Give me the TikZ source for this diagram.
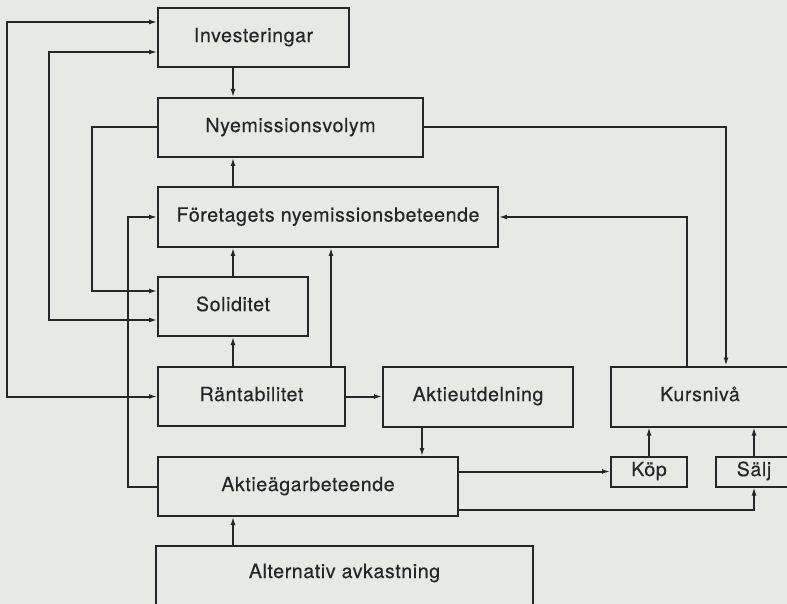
\documentclass[tikz,border=0pt]{standalone}
\usepackage{fontspec}
\setmainfont{TeX Gyre Heros}[LetterSpace=3.0, FakeBold=0.3]
\usepackage{tikz}
\usetikzlibrary{arrows.meta,positioning,calc}
\definecolor{paper}{HTML}{E6E9E4}
\definecolor{ink}{HTML}{26262A}
\tikzset{
  node distance=15pt,
  box/.style={draw=ink, text=ink, line width=1pt, outer sep=0pt, minimum height=29.5pt,
              inner sep=2pt, text height=7.2pt, text depth=2.6pt,
              font=\fontsize{9.8}{12}\selectfont}
}

\begin{document}
\begin{tikzpicture}
          \fill[paper, use as bounding box] (0,0) rectangle (393.5pt,-302pt);
          \clip (0,0) rectangle (393.5pt,-302pt);

          \begin{scope}
              \node[box, minimum width=95.5pt, anchor=north west] (inv) at (79pt,-4pt) {Investeringar};
              \node[box, minimum width=132.5pt] (nye)  [below=15.5pt of inv.south west, anchor=north west] {Nyemissionsvolym};
              \node[box, minimum width=170pt, minimum height=30pt] (fore) [below=15pt of nye.south west, anchor=north west] {Företagets nyemissionsbeteende};
              \node[box, minimum width=75pt]   (sol)  [below=15pt of fore.south west, anchor=north west] {Soliditet};
              \node[box, minimum width=93.5pt] (rant) [below=15.5pt of sol.south west, anchor=north west] {Räntabilitet};
              \node[box, minimum width=150pt]  (agar) [below=15.5pt of rant.south west, anchor=north west] {Aktieägarbeteende};
              \node[box, minimum width=188.5pt, minimum height=0pt, inner ysep=9pt,
                    text height=7pt, text depth=12pt] (alt) [below=15pt of agar.south west, anchor=north west, xshift=-1pt] {Alternativ avkastning};

              \node[box, minimum width=95pt, minimum height=30pt] (akut) [right=19pt of rant] {Aktieutdelning};
              \node[box, minimum width=89pt, minimum height=30pt] (kurs) [right=19pt of akut] {Kursnivå};
              \node[box, minimum width=38pt, minimum height=15pt] (kop)  [below=15pt of kurs.south west, anchor=north west] {Köp};
              \node[box, minimum width=38pt, minimum height=15pt] (salj) [right=14.5pt of kop] {Sälj};
          \end{scope}

          % ports and lanes
          \coordinate (invA)   at ([yshift=-7pt]inv.north west);
          \coordinate (invB)   at ([yshift=7.5pt]inv.south west);
          \coordinate (solA)   at ([yshift=-7pt]sol.north west);
          \coordinate (solB)   at ([yshift=8pt]sol.south west);
          \coordinate (rantup) at ([xshift=-7pt]rant.north east);
          \coordinate (akutdn) at ([xshift=19.5pt]akut.south west);
          \coordinate (agarB)  at ([yshift=3pt]agar.south east);
          \coordinate (kursA)  at ([xshift=38pt]kurs.north west);
          \coordinate (kursB)  at ([xshift=57.5pt]kurs.north west);
          \coordinate (laneA)  at (3.5pt,0);
          \coordinate (laneB)  at (24.5pt,0);
          \coordinate (laneC)  at (46pt,0);
          \coordinate (laneD)  at (64pt,0);

          \begin{scope}[>={Latex[length=4.5pt,width=2.4pt]},
                        every edge/.style={draw=ink,line width=1pt},
                        draw=ink, line width=1pt]
              \path [->] (inv.south -| sol) edge (nye.north -| sol);
              \path [->] (fore.north -| sol) edge (nye.south -| sol);
              \path [->] (sol.north) edge (sol.north |- fore.south);
              \path [->] (rant.north -| sol) edge (sol.south);
              \path [->] (alt.north -| sol) edge (agar.south -| sol);
              \path [->] (rantup) edge (rantup |- fore.south);
              \path [->] (rant) edge (akut);
              \path [->] (akutdn) edge (akutdn |- agar.north);
              \path [->] (agar.east |- kop) edge (kop.west);
              \path [->] (kop.north) edge (kop.north |- kurs.south);
              \path [->] (salj.north) edge (salj.north |- kurs.south);

              \draw [->] (agarB) -| (salj.south);
              \draw [->] (kursA) |- (fore.east);
              \draw [->] (nye.east) -| (kursB);

              \draw [<->] (invA) -| (laneA |- rant.west) -- (rant.west);
              \draw [<->] (invB) -| (laneB |- solB) -- (solB);
              \draw [->] (nye.west) -| (laneC |- solA) -- (solA);
              \draw [->] (agar.west) -| (laneD |- fore.west) -- (fore.west);
          \end{scope}

\end{tikzpicture}
\end{document}
